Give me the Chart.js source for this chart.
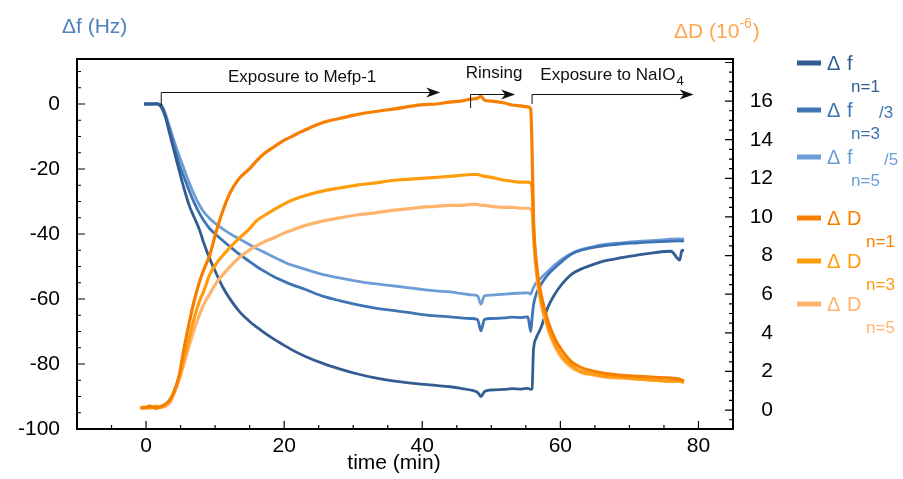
<!DOCTYPE html>
<html>
<head>
<meta charset="utf-8">
<script src="https://cdn.jsdelivr.net/npm/chart.js@4.4.0/dist/chart.umd.min.js"></script>
<style>
  html, body { margin: 0; padding: 0; background: #fff; }
</style>
</head>
<body>
<canvas id="qcm" width="903" height="479"></canvas>
<script>
/* QCM-D trace: frequency and dissipation shifts vs time */

const FONT = '"Liberation Sans", Arial, sans-serif';

// time axis (min)
const timeMin = [
  -0.8, -0.3, 0.5, 1.5, 2.2, 2.8, 3.4, 4, 4.8, 5.5,
  6.3, 7, 7.7, 8.4, 9.2, 10.2, 11.1, 12.1, 13.5, 15,
  16, 17, 18.4, 19.9, 21, 23, 25.7, 28, 30.5, 33,
  36, 39.8, 42, 44, 45.6, 47, 48, 48.5, 49, 50,
  51.9, 53, 54.3, 55.3, 55.7, 55.9, 56.1, 56.5, 57.2, 58.2,
  59.2, 60.2, 61.6, 63, 65, 66.4, 68.9, 71.3, 73.7, 76,
  77.3, 77.6, 77.9
];

// Δf (Hz), overtones 1, 3 (/3), 5 (/5)
const dfN1 = [
  null, 0, 0, 0.1, -1, -4, -9, -14, -20.5, -26,
  -31.5, -35, -38.5, -43, -47.5, -52.3, -56.3, -59.8, -63.8, -66.9,
  -68.6, -70.2, -72.2, -74.1, -75.5, -77.6, -79.9, -81.5, -83, -84.2,
  -85.3, -86.2, -86.6, -87, -87.5, -88, -88.7, -90, -88.5, -88,
  -87.8, -87.6, -87.7, -87.5, -87.8, -87.6, -76, -72, -68.8, -62.5,
  -58.5, -55.5, -52.4, -50.8, -49.2, -48.3, -47.3, -46.4, -45.7, -45.3,
  -48, -45, -45.2
];
const dfN3 = [
  null, 0, 0, 0, -0.5, -3.5, -8, -12.5, -18.5, -22.5,
  -27, -30.5, -33.5, -36, -38.3, -40.3, -42, -43.8, -46.2, -48.5,
  -50, -51.3, -53, -54.5, -55.5, -57, -59.2, -60.5, -61.7, -62.7,
  -63.6, -64.7, -65.2, -65.5, -65.8, -66, -66.3, -69.8, -66.3, -66,
  -65.8, -65.6, -65.7, -65.5, -70, -66, -62, -58.5, -55.5, -52.5,
  -50.4, -48.5, -46.2, -45, -44, -43.6, -43, -42.7, -42.4, -42.2,
  -42.1, -42.2, -42
];
const dfN5 = [
  null, 0, 0, 0, -0.3, -3, -7, -11, -16, -20,
  -24.5, -28, -31, -33.3, -35.2, -37, -38.4, -39.8, -41.5, -43.3,
  -44.5, -45.5, -47, -48.5, -49.5, -50.8, -52.5, -53.5, -54.5, -55.3,
  -56, -57, -57.5, -57.8, -58.3, -58.7, -59, -61.6, -59, -58.8,
  -58.5, -58.3, -58.2, -58.1, -58.5, -57.5, -56.5, -55, -53.5, -51.5,
  -49.5, -47.8, -46, -44.8, -43.8, -43.2, -42.7, -42.3, -42, -41.6,
  -41.5, -41.6, -41.4
];

// ΔD (1e-6), overtones 1, 3, 5
const dD1 = [
  0.15, 0.1, 0.2, 0.1, 0.2, 0.3, 0.5, 0.9, 1.8, 3.2,
  4.6, 5.7, 6.6, 7.3, 8.0, 9.3, 10.3, 11.2, 12.0, 12.5,
  12.9, 13.25, 13.6, 13.95, 14.15, 14.5, 14.9, 15.1, 15.3, 15.45,
  15.6, 15.8, 15.85, 15.95, 16.0, 16.1, 16.15, 16.25, 16.05, 16.0,
  15.9, 15.8, 15.75, 15.7, 15.6, 13.5, 10.0, 7.7, 6.0, 4.6,
  3.7, 3.1, 2.5, 2.2, 2.0, 1.9, 1.8, 1.75, 1.7, 1.65,
  1.6, 1.55, 1.5
];
const dD3 = [
  0.1, 0.15, 0.1, 0.2, 0.15, 0.3, 0.5, 0.9, 1.7, 2.7,
  3.8, 4.8, 5.6, 6.2, 7.0, 7.6, 8.0, 8.4, 8.9, 9.4,
  9.8, 10.05, 10.35, 10.65, 10.85, 11.1, 11.35, 11.5, 11.65, 11.75,
  11.9, 12.0, 12.05, 12.1, 12.15, 12.2, 12.2, 12.15, 12.1, 12.05,
  11.9, 11.85, 11.8, 11.8, 11.75, 11.5, 9.5, 7.4, 5.7, 4.3,
  3.4, 2.8, 2.3, 2.0, 1.85, 1.75, 1.7, 1.6, 1.55, 1.5,
  1.5, 1.5, 1.45
];
const dD5 = [
  0.1, 0.1, 0.15, 0.1, 0.15, 0.2, 0.35, 0.8, 1.6, 2.4,
  3.4, 4.2, 4.9, 5.5, 6.0, 6.6, 7.0, 7.4, 7.9, 8.3,
  8.5, 8.7, 8.9, 9.15, 9.3, 9.55, 9.8, 9.95, 10.1, 10.2,
  10.35, 10.5, 10.55, 10.6, 10.6, 10.65, 10.65, 10.6, 10.6, 10.55,
  10.5, 10.5, 10.45, 10.45, 10.4, 10.3, 9.0, 7.2, 5.5, 4.2,
  3.3, 2.7, 2.2, 1.95, 1.8, 1.7, 1.65, 1.6, 1.55, 1.5,
  1.5, 1.45, 1.45
];

const xTicks = [0, 20, 40, 60, 80];
const fTicks = [-100, -80, -60, -40, -20, 0];
const dTicks = [0, 2, 4, 6, 8, 10, 12, 14, 16];

// experiment phases (min)
const phases = [
  { label: 'Exposure to Mefp-1', start: 2.2, end: 42.6 },
  { label: 'Rinsing', start: 47.0, end: 53.45 },
  { label: 'Exposure to NaIO', sub: '4', start: 55.9, end: 79.3 }
];

const C = {
  f1: '#335d92', f3: '#3f74b4', f5: '#6e9dd6',
  d1: '#f77f00', d3: '#ff9c0e', d5: '#ffb46e'
};

function pts(arr) {
  return timeMin.map((t, i) => ({ x: t, y: arr[i] })).filter(p => p.y !== null);
}

function series(label, arr, color, axis, order, width) {
  return {
    label, data: pts(arr), yAxisID: axis, order,
    borderColor: color, backgroundColor: color,
    borderWidth: width, pointRadius: 0, fill: false,
    cubicInterpolationMode: 'monotone'
  };
}

function drawArrow(ctx, x1, x2, y) {
  ctx.beginPath();
  ctx.moveTo(x1, y); ctx.lineTo(x2 - 6, y);
  ctx.stroke();
  ctx.beginPath();
  ctx.moveTo(x2, y);
  ctx.lineTo(x2 - 14, y - 5);
  ctx.lineTo(x2 - 10, y);
  ctx.lineTo(x2 - 14, y + 5);
  ctx.closePath();
  ctx.fill();
}

const decor = {
  id: 'decor',
  afterDatasetsDraw(chart) {
    const { ctx, chartArea: a, scales } = chart;
    const sx = scales.x, sl = scales.y, sr = scales.y2;
    ctx.save();

    // frame
    ctx.strokeStyle = '#000';
    ctx.lineWidth = 2;
    ctx.strokeRect(a.left, a.top, a.right - a.left, a.bottom - a.top);

    // inward ticks
    ctx.lineWidth = 1.2;
    ctx.beginPath();
    for (let v = -5; v < 85; v += 5) {
      const px = sx.getPixelForValue(v);
      const len = v % 20 === 0 ? 8 : 4;
      ctx.moveTo(px, a.bottom); ctx.lineTo(px, a.bottom - len);
    }
    for (let v = -95; v <= 10; v += 5) {
      const py = sl.getPixelForValue(v);
      const len = v % 20 === 0 ? 8 : 4;
      ctx.moveTo(a.left, py); ctx.lineTo(a.left + len, py);
    }
    for (let v = -0.5; v <= 18; v += 0.5) {
      const py = sr.getPixelForValue(v);
      const len = v % 2 === 0 ? 8 : 4;
      ctx.moveTo(a.right, py); ctx.lineTo(a.right - len, py);
    }
    ctx.stroke();

    // phase brackets
    ctx.lineWidth = 1;
    ctx.strokeStyle = '#111';
    ctx.fillStyle = '#111';
    const lineY = [92.5, 94.5, 94.5];
    const dropY = [106, 108, 104];
    phases.forEach((p, i) => {
      const x1 = sx.getPixelForValue(p.start);
      const x2 = sx.getPixelForValue(p.end);
      ctx.beginPath();
      ctx.moveTo(x1, dropY[i]); ctx.lineTo(x1, lineY[i]);
      ctx.stroke();
      drawArrow(ctx, x1, x2, lineY[i]);
    });
    ctx.font = '17px ' + FONT;
    ctx.textBaseline = 'middle';
    ctx.textAlign = 'center';
    ctx.fillText(phases[0].label, sx.getPixelForValue(22.6), 77);
    ctx.fillText(phases[1].label, sx.getPixelForValue(50.4), 73);
    ctx.textAlign = 'left';
    const nx = sx.getPixelForValue(57.1);
    ctx.fillText(phases[2].label, nx, 75);
    const nw = ctx.measureText(phases[2].label).width;
    ctx.font = '13px ' + FONT;
    ctx.fillText(phases[2].sub, nx + nw + 1, 81);

    // axis titles
    ctx.font = '21px ' + FONT;
    ctx.fillStyle = '#4f81bd';
    ctx.fillText('\u0394f (Hz)', 62, 27);
    ctx.fillStyle = '#ffa64d';
    let tx = 674;
    ctx.fillText('\u0394D (10', tx, 32);
    tx += ctx.measureText('\u0394D (10').width;
    ctx.font = '14px ' + FONT;
    ctx.fillText('-6', tx, 24);
    tx += ctx.measureText('-6').width + 1;
    ctx.font = '21px ' + FONT;
    ctx.fillText(')', tx, 32);

    ctx.fillStyle = '#000';
    ctx.textAlign = 'center';
    ctx.fillText('time (min)', 394, 463);

    // legend
    const leg = [
      { c: C.f1, s: 'f', n: 'n=1', div: '', y: 63 },
      { c: C.f3, s: 'f', n: 'n=3', div: '/3', y: 110 },
      { c: C.f5, s: 'f', n: 'n=5', div: '/5', y: 157 },
      { c: C.d1, s: 'D', n: 'n=1', div: '', y: 218 },
      { c: C.d3, s: 'D', n: 'n=3', div: '', y: 261 },
      { c: C.d5, s: 'D', n: 'n=5', div: '', y: 304 }
    ];
    ctx.textAlign = 'left';
    leg.forEach(e => {
      ctx.strokeStyle = e.c;
      ctx.fillStyle = e.c;
      ctx.lineWidth = 5;
      ctx.beginPath();
      ctx.moveTo(797, e.y); ctx.lineTo(821, e.y);
      ctx.stroke();
      ctx.font = '20px ' + FONT;
      ctx.fillText('\u0394', 827, e.y + 1);
      ctx.fillText(e.s, 847, e.y + 1);
      ctx.font = '17px ' + FONT;
      const subX = e.s === 'f' ? 851 : 866;
      ctx.fillText(e.n, subX, e.y + 24);
      if (e.div) ctx.fillText(e.div, e.div === '/3' ? 879 : 884, e.y + 3);
    });

    ctx.restore();
  }
};

const tickFont = { family: FONT, size: 21 };
const noGrid = { display: false, drawTicks: false };

new Chart(document.getElementById('qcm'), {
  type: 'line',
  data: {
    datasets: [
      series('\u0394f n=1', dfN1, C.f1, 'y', 3, 2.8),
      series('\u0394f n=3 /3', dfN3, C.f3, 'y', 3, 2.8),
      series('\u0394f n=5 /5', dfN5, C.f5, 'y', 3, 2.8),
      series('\u0394D n=5', dD5, C.d5, 'y2', 2, 3.2),
      series('\u0394D n=3', dD3, C.d3, 'y2', 1, 3.2),
      series('\u0394D n=1', dD1, C.d1, 'y2', 0, 3.2)
    ]
  },
  options: {
    responsive: false,
    animation: false,
    layout: { padding: { top: 59, left: 0, right: 130, bottom: 0 } },
    plugins: { legend: { display: false }, tooltip: { enabled: false } },
    scales: {
      x: {
        type: 'linear', min: -10, max: 85,
        grid: noGrid, border: { display: false },
        afterBuildTicks: s => { s.ticks = xTicks.map(v => ({ value: v })); },
        afterFit: s => { s.height = 50; },
        ticks: { font: tickFont, color: '#000', padding: 5, maxRotation: 0 }
      },
      y: {
        position: 'left', min: -100, max: 13.85,
        grid: noGrid, border: { display: false },
        afterBuildTicks: s => { s.ticks = fTicks.map(v => ({ value: v })); },
        afterFit: s => { s.width = 77; },
        ticks: { font: tickFont, color: '#000', padding: 17 }
      },
      y2: {
        position: 'right', min: -0.98, max: 18.18,
        grid: noGrid, border: { display: false },
        afterBuildTicks: s => { s.ticks = dTicks.map(v => ({ value: v })); },
        afterFit: s => { s.width = 40; },
        ticks: { font: tickFont, color: '#000', padding: 16, crossAlign: 'far' }
      }
    }
  },
  plugins: [decor]
});
</script>
</body>
</html>
